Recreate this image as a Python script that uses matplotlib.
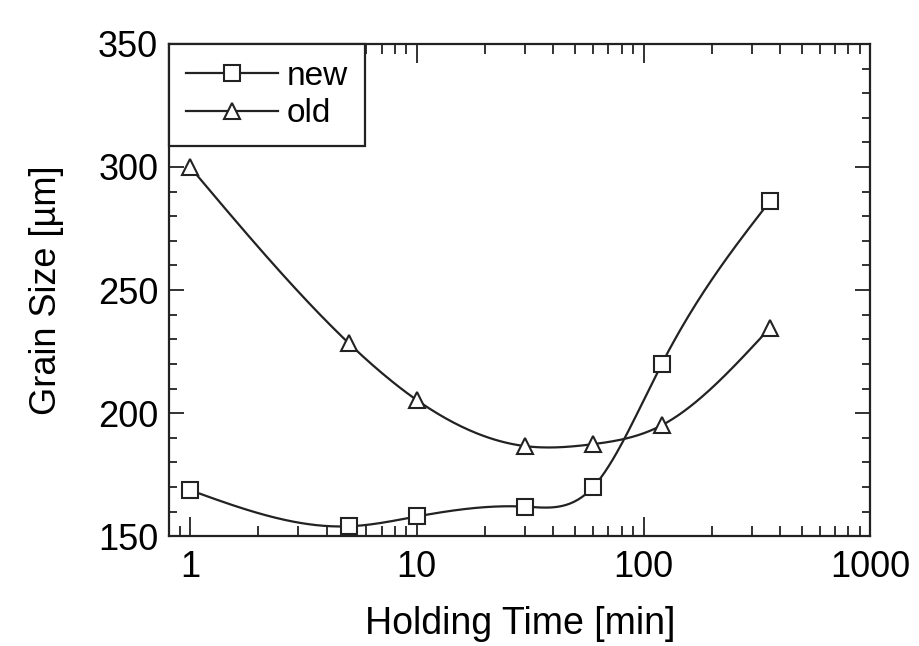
import numpy as np
import matplotlib
matplotlib.use("Agg")
import matplotlib.pyplot as plt
from matplotlib.ticker import LogLocator, MultipleLocator, FixedLocator, FixedFormatter, NullFormatter

plt.rcParams['font.family'] = ['Liberation Sans', 'DejaVu Sans']

# holding time [min]
time = [1, 5, 10, 30, 60, 120, 360]
new_size = [168.7, 154, 158, 162, 170, 219.8, 286]
old_size = [300, 228.5, 205.3, 186.6, 187.4, 195, 234.5]
xtick_vals = [1, 10, 100, 1000]
xtick_labels = ["1", "10", "100", "1000"]


def spline(x, y, n=300):
    # natural cubic spline through the points (in log x)
    x = np.asarray(x, float)
    y = np.asarray(y, float)
    k = len(x)
    h = np.diff(x)
    A = np.zeros((k, k))
    b = np.zeros(k)
    A[0, 0] = A[-1, -1] = 1
    for i in range(1, k - 1):
        A[i, i - 1] = h[i - 1]
        A[i, i] = 2 * (h[i - 1] + h[i])
        A[i, i + 1] = h[i]
        b[i] = 6 * ((y[i + 1] - y[i]) / h[i] - (y[i] - y[i - 1]) / h[i - 1])
    m = np.linalg.solve(A, b)
    xs = np.linspace(x[0], x[-1], n)
    idx = np.clip(np.searchsorted(x, xs) - 1, 0, k - 2)
    x0, x1 = x[idx], x[idx + 1]
    hh = x1 - x0
    t0, t1 = x1 - xs, xs - x0
    ys = (m[idx] * t0**3 / (6 * hh) + m[idx + 1] * t1**3 / (6 * hh)
          + (y[idx] / hh - m[idx] * hh / 6) * t0
          + (y[idx + 1] / hh - m[idx + 1] * hh / 6) * t1)
    return xs, ys


fig = plt.figure(figsize=(9.2, 6.46), dpi=100)
ax = fig.add_axes([0.184, 0.170, 0.762, 0.762])

lx = np.log10(time)
for vals, mk, lab in [(new_size, 's', 'new'), (old_size, '^', 'old')]:
    xs, ys = spline(lx, vals)
    ax.plot(10**xs, ys, color='#222222', lw=1.6)
    ax.plot(time, vals, linestyle='none', marker=mk, ms=12, mfc='white',
            mec='#222222', mew=1.5)
    ax.plot([], [], color='#222222', lw=1.6, marker=mk, ms=11, mfc='white',
            mec='#222222', mew=1.5, label=lab)

ax.set_xscale('log')
ax.set_xlim(0.81, 1000)
ax.set_ylim(150, 350)
ax.xaxis.set_major_locator(FixedLocator(xtick_vals))
ax.xaxis.set_major_formatter(FixedFormatter(xtick_labels))
ax.xaxis.set_minor_locator(LogLocator(base=10, subs=np.arange(2, 10)))
ax.xaxis.set_minor_formatter(NullFormatter())
ax.yaxis.set_major_locator(MultipleLocator(50))
ax.yaxis.set_minor_locator(MultipleLocator(10))

ax.tick_params(which='both', direction='in', top=True, right=True,
               labelsize=26, width=1.3, color='#222222')
ax.tick_params(axis='x', which='major', length=14, pad=10)
ax.tick_params(axis='x', which='minor', length=7.5)
ax.tick_params(axis='y', which='major', length=11, pad=8)
ax.tick_params(axis='y', which='minor', length=6)
for s in ax.spines.values():
    s.set_linewidth(1.6)
    s.set_color('#222222')

ax.set_xlabel('Holding Time [min]', fontsize=27, labelpad=15)
ax.set_ylabel('Grain Size [µm]', fontsize=26, labelpad=24)

leg = ax.legend(loc='upper left', borderaxespad=0, fontsize=24,
                handlelength=2.75, handletextpad=0.27, labelspacing=0.2,
                fancybox=False, edgecolor='#222222', framealpha=1,
                borderpad=0.5)
leg.get_frame().set_linewidth(1.6)

fig.savefig('out.png', dpi=100, facecolor='white')
